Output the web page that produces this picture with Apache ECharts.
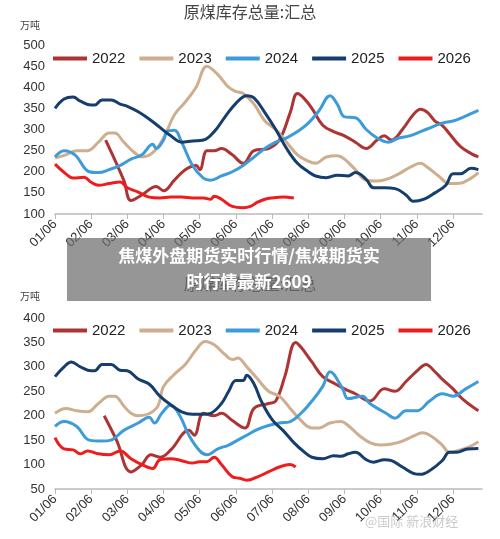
<!DOCTYPE html>
<html><head><meta charset="utf-8">
<script src="https://cdn.jsdelivr.net/npm/echarts@6/dist/echarts.min.js"></script>
<style>html,body{margin:0;padding:0;background:#fff}#c{width:500px;height:539px}</style>
</head><body><div id="c"></div>
<script>
const monthLabels = ['01/06','02/06','03/06','04/06','05/06','06/06','07/06','08/06','09/06','10/06','11/06','12/06'];
const years = ['2022','2023','2024','2025','2026'];
const colors = ['#AE3434','#CDAE8E','#3D9BDA','#153D6D','#EE1C1C'];
const topTicks = [100, 500, 50];
const bottomTicks = [50, 400, 50];

// top chart: [month offset from 01/06, value]
const top2022 = [[1.4,275],[1.9,180],[2.1,132],[2.4,145],[2.8,165],[3.0,155],[3.3,180],[3.6,205],[3.9,215],[4.0,205],[4.2,250],[4.4,250],[4.6,255],[4.9,240],[5.2,220],[5.5,250],[5.9,255],[6.2,275],[6.5,340],[6.7,385],[6.9,372],[7.1,350],[7.4,310],[7.7,295],[8.0,285],[8.3,270],[8.6,255],[8.9,275],[9.1,285],[9.3,275],[9.6,300],[9.9,335],[10.1,348],[10.3,340],[10.5,320],[10.7,310],[10.9,290],[11.2,260],[11.5,243],[11.7,235]];
const top2023 = [[0,233],[0.3,240],[0.6,250],[0.9,250],[1.2,270],[1.5,292],[1.65,292],[1.9,270],[2.2,245],[2.4,235],[2.7,245],[3.0,280],[3.3,335],[3.6,365],[3.9,400],[4.2,450],[4.5,430],[4.8,400],[5.0,390],[5.2,385],[5.5,360],[5.8,320],[6.1,300],[6.4,270],[6.7,240],[7.0,225],[7.2,220],[7.5,235],[7.8,238],[8.0,230],[8.3,205],[8.6,180],[8.9,178],[9.2,183],[9.5,195],[9.8,210],[10.1,220],[10.3,210],[10.6,190],[10.9,172],[11.2,173],[11.5,185],[11.7,198]];
const top2024 = [[0,235],[0.25,250],[0.55,240],[0.95,200],[1.2,198],[1.5,205],[1.8,215],[2.1,230],[2.4,240],[2.7,265],[2.8,255],[3.0,275],[3.1,295],[3.3,298],[3.5,270],[3.8,215],[4.1,185],[4.3,180],[4.6,190],[4.9,200],[5.2,215],[5.5,235],[5.8,255],[6.1,270],[6.4,280],[6.7,295],[7.0,315],[7.3,345],[7.6,380],[7.8,360],[8.0,330],[8.3,328],[8.6,300],[8.9,280],[9.2,270],[9.5,280],[9.8,285],[10.1,295],[10.4,305],[10.7,315],[11.0,320],[11.3,330],[11.7,345]];
const top2025 = [[0,350],[0.25,372],[0.5,377],[0.7,367],[1.0,358],[1.1,358],[1.3,370],[1.55,370],[1.8,360],[2.0,355],[2.3,342],[2.6,325],[2.9,305],[3.2,285],[3.5,270],[3.8,273],[4.1,275],[4.4,295],[4.7,330],[5.0,362],[5.3,380],[5.5,375],[5.8,340],[6.1,300],[6.4,255],[6.7,220],[7.0,200],[7.2,190],[7.5,186],[7.8,192],[8.1,190],[8.3,198],[8.6,182],[8.8,162],[9.1,162],[9.4,160],[9.7,145],[9.9,130],[10.2,135],[10.5,150],[10.8,168],[11.0,195],[11.2,195],[11.5,208],[11.7,205]];
const top2026 = [[0,218],[0.3,195],[0.5,185],[0.8,187],[1.0,175],[1.2,168],[1.5,172],[1.8,176],[2.0,162],[2.3,152],[2.6,140],[2.9,138],[3.2,140],[3.5,140],[3.8,138],[4.1,138],[4.3,135],[4.4,142],[4.6,135],[4.9,118],[5.2,115],[5.4,118],[5.6,128],[5.8,135],[6.0,138],[6.3,140],[6.6,138]];

// bottom chart
const bot2022 = [[1.36,200],[1.7,150],[2.1,85],[2.4,100],[2.65,120],[2.9,115],[3.2,130],[3.7,170],[3.85,160],[4.1,205],[4.4,200],[4.6,205],[4.9,190],[5.25,175],[5.5,215],[5.9,225],[6.1,230],[6.35,280],[6.65,350],[6.8,340],[7.1,310],[7.4,280],[7.75,265],[8.0,255],[8.3,245],[8.7,230],[9.1,255],[9.4,250],[9.7,270],[10.05,295],[10.25,305],[10.5,290],[10.7,275],[11.0,255],[11.25,235],[11.7,210]];
const bot2023 = [[0,205],[0.3,215],[0.6,210],[0.9,208],[1.2,225],[1.5,240],[1.65,240],[1.9,220],[2.1,205],[2.3,200],[2.8,215],[3.0,260],[3.3,285],[3.6,305],[3.9,335],[4.15,352],[4.4,345],[4.7,325],[4.9,315],[5.05,318],[5.3,300],[5.6,275],[5.9,250],[6.2,240],[6.5,215],[6.8,190],[7.1,175],[7.3,175],[7.6,185],[7.9,188],[8.1,180],[8.4,160],[8.7,145],[9.0,140],[9.3,142],[9.6,148],[9.9,158],[10.15,165],[10.4,158],[10.7,140],[10.9,125],[11.2,130],[11.5,138],[11.7,147]];
const bot2024 = [[0,178],[0.25,188],[0.6,178],[0.95,150],[1.3,148],[1.55,150],[1.9,170],[2.3,185],[2.6,197],[2.75,185],[2.95,205],[3.2,222],[3.45,200],[3.7,160],[4.0,128],[4.2,120],[4.5,132],[4.8,140],[5.0,148],[5.3,160],[5.6,172],[5.9,180],[6.2,185],[6.5,188],[6.8,205],[7.1,230],[7.4,260],[7.6,290],[7.95,255],[8.1,235],[8.5,240],[8.7,225],[9.15,205],[9.4,195],[9.7,210],[10.0,210],[10.35,230],[10.7,245],[11.0,240],[11.35,255],[11.7,270]];
const bot2025 = [[0,280],[0.25,300],[0.45,310],[0.7,300],[1.0,292],[1.1,292],[1.3,305],[1.55,305],[1.8,293],[2.0,292],[2.3,275],[2.6,265],[2.9,240],[3.2,222],[3.5,208],[3.8,203],[4.1,203],[4.3,205],[4.6,225],[4.8,250],[5.0,272],[5.2,272],[5.3,283],[5.5,265],[5.7,230],[6.0,192],[6.3,170],[6.6,145],[6.9,125],[7.1,115],[7.4,112],[7.7,118],[7.9,117],[8.1,122],[8.3,125],[8.6,110],[8.8,105],[9.1,110],[9.3,108],[9.6,95],[9.9,82],[10.1,80],[10.4,90],[10.7,108],[10.9,125],[11.1,125],[11.4,132],[11.7,133]];
const bot2026 = [[0,155],[0.25,132],[0.5,130],[0.7,122],[0.9,128],[1.2,122],[1.5,120],[1.8,128],[2.1,112],[2.4,100],[2.7,92],[2.9,110],[3.2,112],[3.5,108],[3.8,103],[4.0,106],[4.2,106],[4.4,115],[4.6,100],[4.9,75],[5.1,72],[5.3,68],[5.6,75],[5.9,85],[6.2,95],[6.5,100],[6.65,95]];

const topData = [top2022, top2023, top2024, top2025, top2026];
const botData = [bot2022, bot2023, bot2024, bot2025, bot2026];

const chart = echarts.init(document.getElementById('c'));
const font = 'Liberation Sans, Arial, sans-serif';
function xAxis(gi) {
  return {
    type: 'value', gridIndex: gi, min: 0, max: 11.8, interval: 1,
    axisLine: { lineStyle: { color: '#bbb', width: 1.5 } },
    axisTick: { show: true, length: 5, lineStyle: { color: '#bbb' } },
    splitLine: { show: false },
    axisLabel: { rotate: 45, color: '#333', fontSize: 13, fontFamily: font, margin: 8, showMaxLabel: false,
      formatter: v => Number.isInteger(v) ? monthLabels[v] : '' }
  };
}
function yAxis(gi, t) {
  return {
    type: 'value', gridIndex: gi, min: t[0], max: t[1], interval: t[2],
    axisLine: { show: false }, axisTick: { show: false }, splitLine: { show: false },
    axisLabel: { color: '#333', fontSize: 13, fontFamily: font, margin: 10 }
  };
}
const series = [];
[topData, botData].forEach((set, gi) => {
  set.forEach((d, i) => series.push({
    name: years[i], type: 'line', xAxisIndex: gi, yAxisIndex: gi, data: d,
    smooth: 0.4, showSymbol: false, lineStyle: { width: 3, color: colors[i] },
    itemStyle: { color: colors[i] }, z: 2 + i
  }));
});
function legend(top) {
  return { top: top, left: 48, itemGap: 14, itemWidth: 34, itemHeight: 4, icon: 'rect',
    textStyle: { fontSize: 15, color: '#222', fontFamily: font }, data: years };
}
chart.setOption({
  animation: false,
  color: colors,
  grid: [
    { left: 55, right: 18, top: 45, height: 169 },
    { left: 55, right: 18, top: 318, height: 171 }
  ],
  xAxis: [xAxis(0), xAxis(1)],
  yAxis: [yAxis(0, topTicks), yAxis(1, bottomTicks)],
  legend: [legend(46), legend(318)],
  series: series,
  graphic: [
    { type: 'text', left: 'center', top: 4, style: { text: '原煤库存总量:汇总', fontSize: 16, fill: '#444', fontFamily: 'Noto Sans CJK SC, serif' } },
    { type: 'text', left: 20, top: 20, style: { text: '万吨', fontSize: 10, fill: '#444', fontFamily: 'Noto Sans CJK SC' } },
    { type: 'text', left: 'center', top: 276, style: { text: '原煤库存总量:汇总', fontSize: 16, fill: '#444', fontFamily: 'Noto Sans CJK SC, serif' } },
    { type: 'text', left: 20, top: 291, style: { text: '万吨', fontSize: 10, fill: '#444', fontFamily: 'Noto Sans CJK SC' } },
    { type: 'text', left: 365, top: 515, style: { text: '@国际 新浪财经', fontSize: 13, fill: 'rgba(150,150,150,0.5)', fontFamily: 'Noto Sans CJK SC' }, z: 50 },
    { type: 'rect', shape: { x: 67, y: 238, width: 364, height: 63 }, style: { fill: 'rgba(110,110,110,0.72)' }, z: 100 },
    { type: 'text', x: 249, y: 256, style: { text: '焦煤外盘期货实时行情/焦煤期货实', fontSize: 17, fontWeight: 'bold', fill: '#fff', align: 'center', verticalAlign: 'middle', fontFamily: 'Noto Sans CJK SC' }, z: 101 },
    { type: 'text', x: 249, y: 282, style: { text: '时行情最新2609', fontSize: 17, fontWeight: 'bold', fill: '#fff', align: 'center', verticalAlign: 'middle', fontFamily: 'Noto Sans CJK SC' }, z: 101 }
  ]
});
</script></body></html>
